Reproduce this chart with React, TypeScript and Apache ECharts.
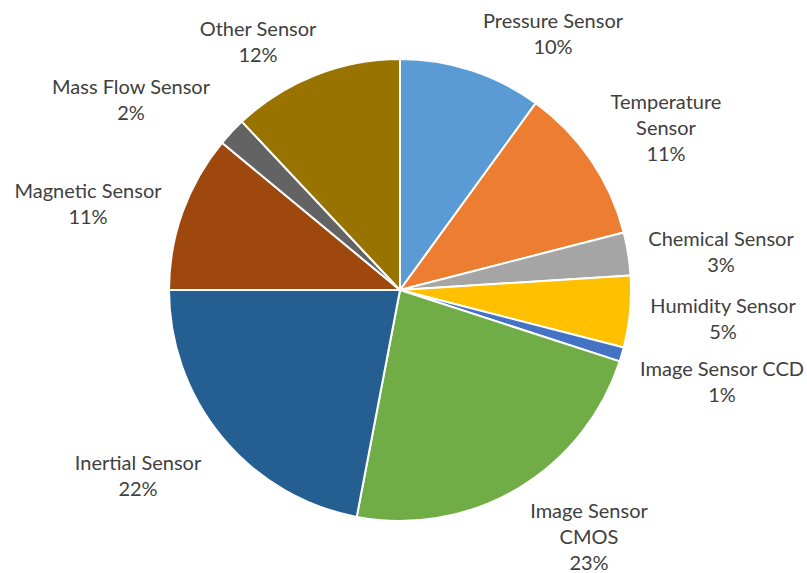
import React, { useEffect, useRef } from "react";
import * as echarts from "echarts";

const categories = [
  "Pressure Sensor",
  "Temperature Sensor",
  "Chemical Sensor",
  "Humidity Sensor",
  "Image Sensor CCD",
  "Image Sensor CMOS",
  "Inertial Sensor",
  "Magnetic Sensor",
  "Mass Flow Sensor",
  "Other Sensor",
];
const shares = [10, 11, 3, 5, 1, 23, 22, 11, 2, 12];
const labelTexts = [
  "Pressure Sensor",
  "Temperature\nSensor",
  "Chemical Sensor",
  "Humidity Sensor",
  "Image Sensor CCD",
  "Image Sensor\nCMOS",
  "Inertial Sensor",
  "Magnetic Sensor",
  "Mass Flow Sensor",
  "Other Sensor",
];
const colors = [
  "#5B9BD5",
  "#ED7D31",
  "#A5A5A5",
  "#FFC000",
  "#4472C4",
  "#70AD47",
  "#255E91",
  "#9E480E",
  "#636363",
  "#997300",
];
// label block centres (layout)
const labelCenters: [number, number][] = [
  [553, 33],
  [666, 127],
  [721, 251],
  [723, 318],
  [722, 381],
  [589, 536],
  [138, 475],
  [88, 203],
  [131, 99],
  [258, 41],
];

export default function App() {
  const ref = useRef<HTMLDivElement>(null);
  useEffect(() => {
    if (!ref.current) return;
    const chart = echarts.init(ref.current, undefined, { renderer: "svg" });
    chart.setOption({
      animation: false,
      backgroundColor: "#ffffff",
      series: [
        {
          type: "pie",
          center: [400, 290],
          radius: 231,
          startAngle: 90,
          clockwise: true,
          data: categories.map((name, i) => ({
            name,
            value: shares[i],
            itemStyle: { color: colors[i] },
          })),
          itemStyle: { borderColor: "#ffffff", borderWidth: 2 },
          label: {
            show: true,
            position: "outside",
            alignTo: "none",
            overflow: "none",
            formatter: (p: any) => `${labelTexts[p.dataIndex]}\n${shares[p.dataIndex]}%`,
            fontFamily: "Lato",
            fontSize: 20,
            lineHeight: 26,
            color: "#404040",
            align: "center",
          },
          labelLine: { show: false },
          labelLayout: (params: any) => {
            const c = labelCenters[params.dataIndex];
            return { x: c[0], y: c[1], align: "center", verticalAlign: "middle" };
          },
          emphasis: { disabled: true },
        },
      ],
    });
    return () => chart.dispose();
  }, []);
  return (
    <div
      ref={ref}
      style={{ position: "fixed", left: 0, top: 0, width: 807, height: 573 }}
    />
  );
}
